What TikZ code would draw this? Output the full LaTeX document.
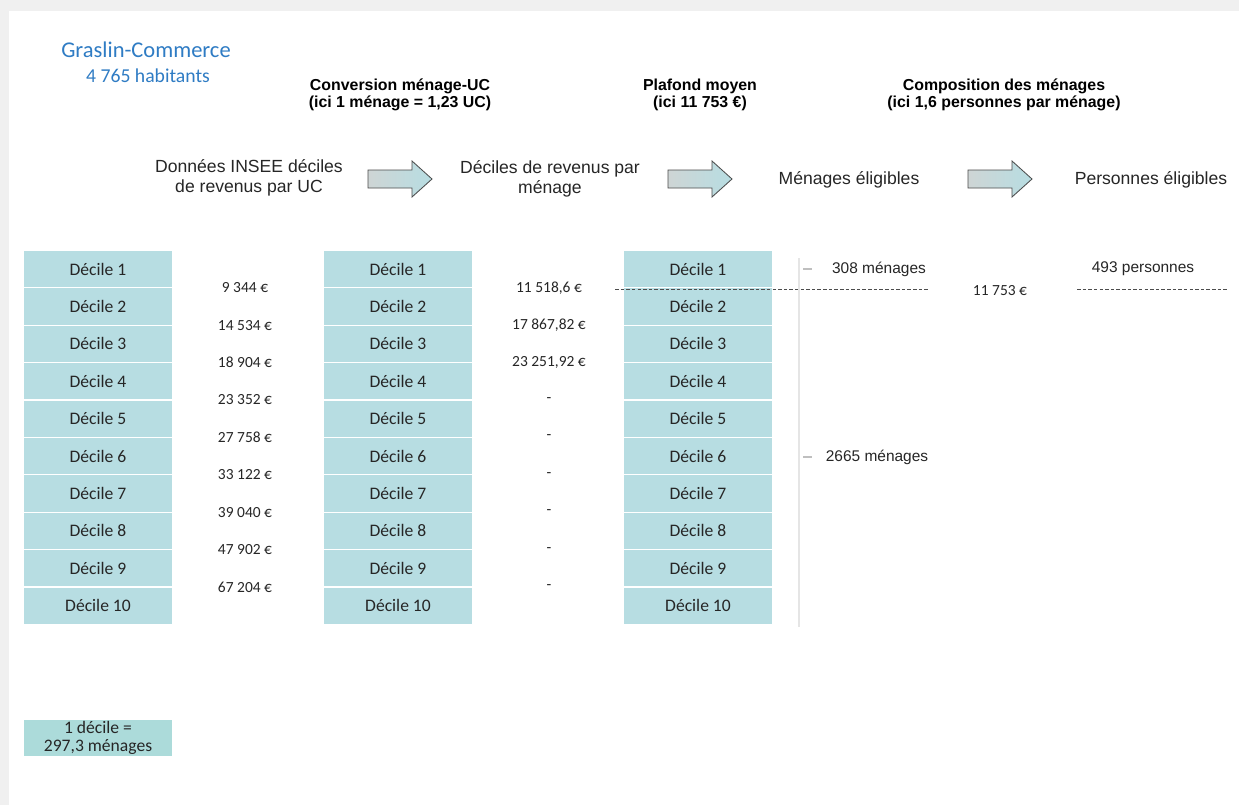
\documentclass[tikz,border=0pt]{standalone}
\usepackage{fontspec}
\setmainfont{Carlito}
\newfontfamily\arialf{Liberation Sans}
\usepackage{xcolor}
\usepackage{tikz}
\usetikzlibrary{positioning}

\definecolor{decfond}{RGB}{183,221,226}
\definecolor{legfond}{RGB}{172,219,218}
\definecolor{titrebleu}{RGB}{47,124,196}
\definecolor{flechegris}{RGB}{206,213,213}
\definecolor{texte}{RGB}{38,38,38}

\tikzset{
  decile/.style={draw=white, line width=0.8pt, fill=decfond,
    minimum width=3.75cm, minimum height=0.935cm, inner sep=0pt,
    outer sep=0pt, text=texte, font=\fontsize{12.5}{14}\selectfont},
  valeur/.style={text=texte, font=\fontsize{11}{13}\selectfont},
  entete/.style={align=center, font=\arialf\bfseries\fontsize{11.3}{12.5}\selectfont},
  etape/.style={align=center, text=texte, font=\arialf\fontsize{12.5}{14.2}\selectfont},
  compte/.style={text=texte, font=\arialf\fontsize{11}{13}\selectfont},
  fleche/.style={draw=black!70, line width=0.6pt, left color=flechegris, right color=decfond},
  seuil/.style={draw=black!70, line width=0.5pt, dash pattern=on 2.5pt off 1.5pt},
  accolade/.style={draw=black!10, line width=1pt}
}

\begin{document}
\begin{tikzpicture}[x=0.025cm, y=-0.025cm]
% Fond
\fill[gray!12] (0,0) rectangle (1239,805);
\fill[white] (9,11) rectangle (1239,805);
\useasboundingbox (0,0) rectangle (1239,805);

% Titre
\node[text=titrebleu, font=\fontsize{16}{18}\selectfont] (quartier) at (146,50) {Graslin-Commerce};
\node[text=titrebleu, font=\fontsize{14}{16}\selectfont] (habitants) at (148,76) {4 765 habitants};

% En-tetes
\node[entete] (conversion) at (400,95) {Conversion ménage-UC\\(ici 1 ménage = 1,23 UC)};
\node[entete] (plafmoy) at (700,95) {Plafond moyen\\(ici 11 753 €)};
\node[entete] (composition) at (1004,95) {Composition des ménages\\(ici 1,6 personnes par ménage)};

% Etapes
\node[etape] (insee) at (249,178) {Données INSEE déciles\\de revenus par UC};
\node[etape] (parmenage) at (550,179) {Déciles de revenus par\\ménage};
\node[etape] (menelig) at (849,180) {Ménages éligibles};
\node[etape] (perselig) at (1151,180) {Personnes éligibles};

% Fleches
\foreach \x in {368,668,968}
  \draw[fleche] (\x,170) -- ++(44,0) -- ++(0,-9) -- ++(20,18) -- ++(-20,18)
    -- ++(0,-9) -- ++(-44,0) -- cycle;

% Colonnes de deciles
\node[decile] (uc1) at (98,269) {Décile 1};
\node[decile] (men1) at (398,269) {Décile 1};
\node[decile] (pla1) at (698,269) {Décile 1};
\foreach \i [count=\j from 2] in {1,...,9} {
  \node[decile, below=0pt of uc\i] (uc\j) {Décile \j};
  \node[decile, below=0pt of men\i] (men\j) {Décile \j};
  \node[decile, below=0pt of pla\i] (pla\j) {Décile \j};
}

% Valeurs
\coordinate (xuc) at (245,0);
\coordinate (xmen) at (549,0);
\foreach \v [count=\i] in {9 344 €, 14 534 €, 18 904 €, 23 352 €, 27 758 €,
    33 122 €, 39 040 €, 47 902 €, 67 204 €}
  \node[valeur] (revuc\i) at (uc\i.south -| xuc) {\v};
\foreach \v [count=\i] in {{11 518,6 €}, {17 867,82 €}, {23 251,92 €}, -, -, -, -, -, -}
  \node[valeur] (revmen\i) at (men\i.south -| xmen) {\v};

% Seuil
\coordinate (s0) at (615,289);
\coordinate (s1) at (928,289);
\coordinate (s2) at (1077,289);
\coordinate (s3) at (1228,289);
\node[valeur] (plafond) at (1000,291) {11 753 €};
\draw[seuil] (s0) -- (s1);
\draw[seuil] (s2) -- (s3);

% Accolade et effectifs
\draw[accolade] (799,258) -- (799,627);
\draw[accolade, draw=black!25] (803,269) -- (812,269);
\draw[accolade, draw=black!25] (803,457) -- (812,457);
\node[compte] (eligmen) at (879,269) {308 ménages};
\node[compte] (autmen) at (877,457) {2665 ménages};
\node[compte] (eligpers) at (1143,269) {493 personnes};

% Legende
\node[decile, fill=legfond, align=center, font=\fontsize{12.5}{12.8}\selectfont,
  minimum height=0.95cm] (legende) at (98,738) {1 décile =\\297,3 ménages};
\end{tikzpicture}
\end{document}
